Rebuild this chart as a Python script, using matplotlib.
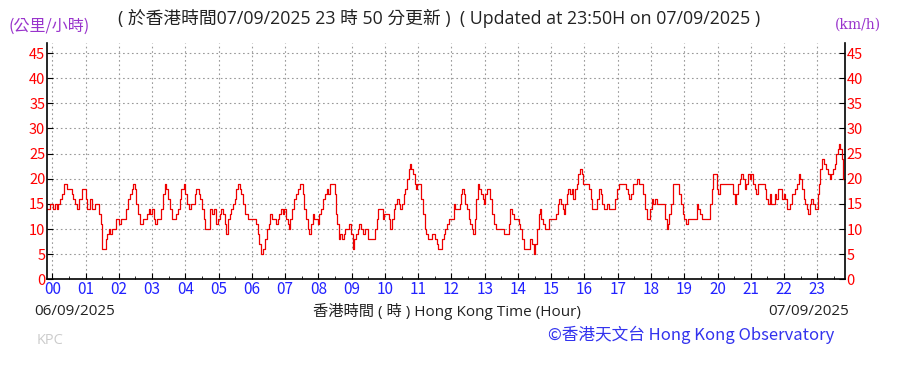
import matplotlib
matplotlib.use('Agg')
import matplotlib.pyplot as plt

plt.rcParams['font.family'] = ['Noto Sans CJK TC', 'DejaVu Sans']

# hours since 00:00 on 06/09/2025, wind speed km/h
hours = [-0.17, -0.07, 0.01, 0.08, 0.13, 0.18, 0.23, 0.28, 0.35, 0.43, 0.58, 0.63, 0.68, 0.75,
         0.81, 0.88, 0.93, 1.0, 1.03, 1.13, 1.18, 1.28, 1.38, 1.41, 1.48, 1.51, 1.56, 1.61,
         1.66, 1.71, 1.75, 1.81, 1.88, 1.93, 2.01, 2.08, 2.18, 2.23, 2.28, 2.33, 2.39, 2.43,
         2.48, 2.53, 2.58, 2.63, 2.73, 2.81, 2.85, 2.90, 2.95, 3.01, 3.05, 3.09, 3.15, 3.23,
         3.28, 3.33, 3.38, 3.43, 3.48, 3.55, 3.61, 3.68, 3.73, 3.78, 3.83, 3.88, 3.95, 4.0,
         4.05, 4.11, 4.18, 4.23, 4.29, 4.33, 4.41, 4.45, 4.50, 4.55, 4.58, 4.68, 4.73, 4.80,
         4.85, 4.91, 4.98, 5.03, 5.08, 5.13, 5.18, 5.23, 5.28, 5.33, 5.38, 5.43, 5.48, 5.53,
         5.58, 5.63, 5.68, 5.73, 5.78, 5.88, 6.08, 6.13, 6.18, 6.23, 6.28, 6.35, 6.41, 6.46,
         6.51, 6.55, 6.61, 6.68, 6.73, 6.78, 6.83, 6.88, 6.93, 6.98, 7.03, 7.08, 7.11, 7.15,
         7.21, 7.28, 7.33, 7.38, 7.46, 7.53, 7.58, 7.63, 7.68, 7.73, 7.78, 7.83, 7.88, 7.93,
         7.98, 8.03, 8.08, 8.15, 8.21, 8.25, 8.29, 8.35, 8.45, 8.49, 8.52, 8.56, 8.61, 8.66,
         8.71, 8.76, 8.81, 8.88, 8.93, 8.98, 9.03, 9.08, 9.13, 9.18, 9.23, 9.28, 9.33, 9.41,
         9.48, 9.65, 9.70, 9.75, 9.80, 9.88, 9.93, 9.98, 10.05, 10.11, 10.16, 10.21, 10.26,
         10.31, 10.36, 10.41, 10.46, 10.51, 10.56, 10.61, 10.66, 10.71, 10.76, 10.80, 10.85,
         10.90, 10.93, 10.98, 11.05, 11.10, 11.15, 11.20, 11.25, 11.30, 11.43, 11.50, 11.56,
         11.61, 11.72, 11.77, 11.82, 11.87, 11.92, 12.04, 12.07, 12.12, 12.19, 12.25, 12.29,
         12.32, 12.37, 12.42, 12.47, 12.52, 12.57, 12.62, 12.65, 12.70, 12.75, 12.79, 12.84,
         12.89, 12.94, 12.97, 13.02, 13.07, 13.12, 13.17, 13.22, 13.27, 13.35, 13.54, 13.57,
         13.67, 13.72, 13.77, 13.82, 13.87, 13.97, 14.02, 14.07, 14.12, 14.17, 14.33, 14.37,
         14.42, 14.47, 14.52, 14.57, 14.62, 14.65, 14.70, 14.75, 14.80, 14.89, 14.93, 15.09,
         15.14, 15.19, 15.24, 15.29, 15.34, 15.38, 15.43, 15.48, 15.52, 15.57, 15.62, 15.67,
         15.72, 15.77, 15.82, 15.87, 15.92, 15.97, 16.09, 16.14, 16.19, 16.24, 16.34, 16.39,
         16.44, 16.49, 16.54, 16.59, 16.67, 16.74, 16.87, 16.92, 16.97, 17.04, 17.20, 17.25,
         17.30, 17.35, 17.40, 17.45, 17.57, 17.65, 17.72, 17.77, 17.82, 17.87, 17.93, 17.97,
         18.02, 18.07, 18.12, 18.17, 18.37, 18.42, 18.47, 18.51, 18.55, 18.60, 18.65, 18.80,
         18.85, 18.90, 18.95, 19.00, 19.05, 19.10, 19.32, 19.37, 19.42, 19.47, 19.52, 19.72,
         19.77, 19.82, 19.87, 19.92, 19.97, 20.02, 20.07, 20.42, 20.47, 20.52, 20.57, 20.62,
         20.67, 20.72, 20.77, 20.82, 20.87, 20.92, 20.97, 21.02, 21.07, 21.12, 21.17, 21.22,
         21.37, 21.42, 21.47, 21.52, 21.57, 21.62, 21.67, 21.72, 21.77, 21.82, 21.89, 21.94,
         21.99, 22.04, 22.09, 22.14, 22.19, 22.24, 22.29, 22.34, 22.39, 22.44, 22.49, 22.54,
         22.59, 22.64, 22.69, 22.73, 22.77, 22.82, 22.87, 22.92, 22.97, 23.01, 23.05, 23.09,
         23.13, 23.19, 23.25, 23.31, 23.37, 23.42, 23.47, 23.52, 23.57, 23.62, 23.65, 23.69,
         23.73, 23.77, 23.83]
speeds = [14, 15, 14, 15, 14, 15, 16, 17, 19, 18, 17, 16, 15, 14,
          16, 18, 18, 16, 14, 16, 14, 15, 15, 13, 11, 6, 6, 8,
          9, 10, 9, 10, 10, 12, 11, 12, 12, 14, 16, 17, 18, 19,
          18, 15, 13, 11, 12, 12, 13, 14, 13, 14, 12, 11, 12, 12,
          14, 17, 19, 18, 16, 14, 12, 12, 13, 14, 16, 18, 19, 17,
          15, 14, 15, 15, 17, 18, 17, 16, 14, 12, 10, 10, 14, 13,
          14, 11, 12, 13, 14, 13, 11, 9, 12, 13, 14, 15, 16, 18,
          19, 18, 17, 15, 13, 12, 12, 11, 9, 7, 5, 6, 8, 10,
          11, 13, 12, 12, 11, 12, 13, 14, 13, 14, 12, 11, 10, 12,
          14, 16, 17, 18, 19, 17, 14, 12, 10, 9, 11, 13, 12, 12,
          11, 13, 14, 16, 17, 18, 17, 19, 19, 17, 13, 11, 8, 9,
          8, 9, 10, 10, 11, 9, 6, 8, 9, 10, 11, 10, 9, 10,
          8, 8, 10, 12, 14, 14, 12, 13, 13, 12, 10, 12, 14,
          15, 16, 15, 14, 15, 17, 18, 20, 22, 23, 22, 21,
          19, 18, 19, 19, 16, 13, 10, 9, 8, 9, 8, 7,
          6, 8, 9, 10, 11, 12, 12, 15, 14, 14, 15, 17,
          18, 17, 15, 14, 12, 11, 10, 9, 12, 16, 19, 18,
          17, 16, 15, 17, 18, 18, 16, 13, 11, 10, 10, 9,
          9, 11, 14, 13, 12, 12, 11, 10, 8, 6, 6, 8,
          7, 5, 7, 10, 13, 14, 12, 11, 10, 10, 12, 12,
          13, 15, 16, 15, 14, 13, 15, 17, 18, 17, 18, 16,
          18, 19, 21, 22, 21, 19, 19, 18, 16, 14, 14, 16,
          18, 17, 15, 14, 15, 14, 14, 16, 18, 19, 19, 18,
          17, 16, 17, 19, 20, 19, 19, 17, 14, 12, 12, 14,
          16, 15, 16, 15, 15, 12, 10, 11, 13, 15, 19, 19,
          17, 15, 13, 12, 11, 12, 12, 15, 14, 13, 12, 12,
          15, 18, 21, 21, 18, 17, 19, 19, 17, 15, 17, 19,
          20, 21, 20, 18, 19, 21, 20, 21, 19, 18, 17, 19,
          19, 18, 16, 15, 17, 15, 15, 17, 16, 18, 18, 16,
          17, 16, 14, 14, 15, 17, 17, 18, 19, 21, 20, 18,
          16, 15, 14, 13, 15, 16, 15, 14, 14, 17, 19, 22,
          24, 23, 22, 21, 20, 21, 22, 23, 25, 26, 27, 26,
          24, 20, 20]

hour_labels = ['%02d' % h for h in range(24)]
y_ticks = list(range(0, 50, 5))

fig = plt.figure(figsize=(9.09, 3.72), dpi=100)
ax = fig.add_axes([0.0514, 0.2492, 0.8782, 0.6352])

ax.plot(hours, speeds, color='#ee0000', linewidth=0.9, drawstyle='steps-post')

ax.set_xlim(-1 / 6, 23 + 5 / 6)
ax.set_ylim(0, 47)
ax.set_xticks(range(24))
ax.set_xticks([h + 0.5 for h in range(-1, 24) if -0.16 < h + 0.5 < 23.83], minor=True)
ax.set_xticklabels(hour_labels)
ax.set_yticks(y_ticks)
ax.set_yticklabels([str(v) for v in y_ticks])

ax.grid(True, color='#999999', linestyle=(0, (1.5, 2.5)), linewidth=0.8)
ax.spines['top'].set_visible(False)
for s in ['left', 'bottom', 'right']:
    ax.spines[s].set_linewidth(1.2)

ax.tick_params(axis='x', which='major', direction='in', length=4, colors='black',
               labelcolor='#2222ff', labelsize=11, pad=1)
ax.tick_params(axis='x', which='minor', direction='in', length=2)
ax.tick_params(axis='y', direction='in', length=4, labelcolor='#ff0000', labelsize=10.5,
               left=True, right=True, labelleft=True, labelright=True, pad=1)

latin = ['Open Sans', 'Noto Sans CJK TC']
fig.text(0.009, 0.93, '(公里/小時)', color='#9933cc', fontsize=11.5, va='center')
fig.text(0.919, 0.933, '(km/h)', color='#9933cc', fontsize=10, va='center', family='DejaVu Serif')
fig.text(0.13, 0.95, '( 於香港時間07/09/2025 23 時 50 分更新 )  ( Updated at 23:50H on 07/09/2025 )',
         fontsize=12.8, va='center', color='#222222', family=latin)
fig.text(0.038, 0.163, '06/09/2025', fontsize=11, va='center', color='#222222', family=latin)
fig.text(0.344, 0.163, '香港時間 ( 時 ) Hong Kong Time (Hour)', fontsize=11, va='center',
         ha='left', color='#222222', family=latin)
fig.text(0.934, 0.163, '07/09/2025', fontsize=11, va='center', ha='right', color='#222222',
         family=latin)
fig.text(0.04, 0.085, 'KPC', fontsize=10.5, va='center', color='#cccccc', family=latin)
fig.text(0.918, 0.1, '©香港天文台 Hong Kong Observatory', fontsize=12, va='center', ha='right',
         color='#3333ee')

fig.savefig('out.png', dpi=100)
